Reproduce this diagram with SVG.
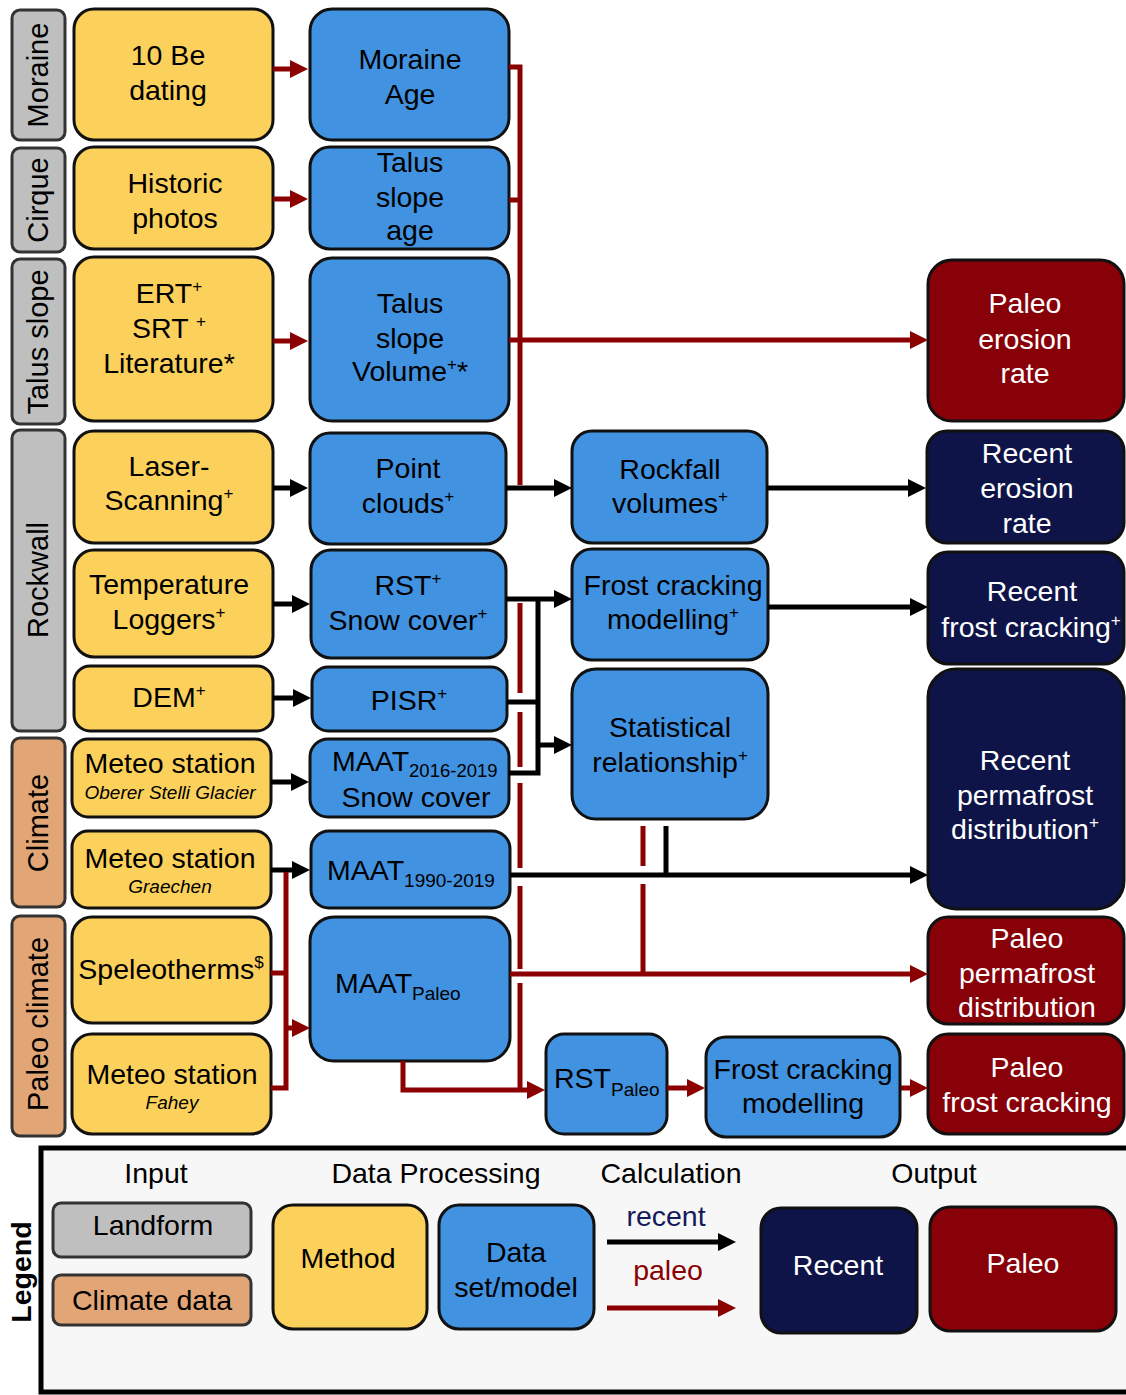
<svg xmlns="http://www.w3.org/2000/svg" width="1126" height="1395" viewBox="0 0 1126 1395">
<defs>
<marker id="ak" markerUnits="userSpaceOnUse" markerWidth="18" markerHeight="18" refX="1" refY="9" orient="auto"><path d="M0,0L18,9L0,18z" fill="#000"/></marker>
<marker id="ar" markerUnits="userSpaceOnUse" markerWidth="18" markerHeight="18" refX="1" refY="9" orient="auto"><path d="M0,0L18,9L0,18z" fill="#8b0000"/></marker>
</defs>
<style>
text{font-family:"Liberation Sans",Arial,sans-serif;font-size:28.5px;text-anchor:middle;fill:#000}
g rect{stroke:#111;stroke-width:3}
.lf rect{fill:#bfbfbf;stroke:#333}
.cl rect{fill:#e2a676;stroke:#333}
.m rect{fill:#fcd15b}
.d rect{fill:#4192e1}
.r rect{fill:#0e1447}
.p rect{fill:#880008}
.r text,.p text{fill:#fff}
.it{font-style:italic;font-size:19px}
.sub{font-size:19px}
.sup{font-size:17px}
.k{stroke:#000;stroke-width:5;fill:none}
.rd{stroke:#8b0000;stroke-width:5;fill:none}
.lbl{font-size:29px}
#legend-frame{fill:#f7f7f7;stroke:#000;stroke-width:5}
</style>

<!-- Landform / climate labels -->
<g id="lf-moraine" class="lf"><rect x="12" y="10" width="53" height="130" rx="8"/><text class="lbl" transform="translate(48,75) rotate(-90)">Moraine</text></g>
<g id="lf-cirque" class="lf"><rect x="12" y="148" width="53" height="104" rx="8"/><text class="lbl" transform="translate(48,200) rotate(-90)">Cirque</text></g>
<g id="lf-talus" class="lf"><rect x="12" y="259" width="53" height="165" rx="8"/><text class="lbl" transform="translate(48,342) rotate(-90)">Talus slope</text></g>
<g id="lf-rockwall" class="lf"><rect x="12" y="430" width="53" height="301" rx="8"/><text class="lbl" transform="translate(48,580) rotate(-90)">Rockwall</text></g>
<g id="cl-climate" class="cl"><rect x="12" y="738" width="53" height="169" rx="8"/><text class="lbl" transform="translate(48,823) rotate(-90)">Climate</text></g>
<g id="cl-paleo" class="cl"><rect x="12" y="916" width="53" height="220" rx="8"/><text class="lbl" transform="translate(48,1024) rotate(-90)">Paleo climate</text></g>

<!-- Methods (yellow) -->
<g id="m-be" class="m"><rect x="74" y="9" width="199" height="131" rx="20"/><text x="168" y="65">10 Be</text><text x="168" y="100">dating</text></g>
<g id="m-photos" class="m"><rect x="74" y="147" width="199" height="102" rx="20"/><text x="175" y="193">Historic</text><text x="175" y="228">photos</text></g>
<g id="m-ert" class="m"><rect x="74" y="257" width="199" height="164" rx="20"/><text x="169" y="303">ERT<tspan class="sup" dy="-11">+</tspan></text><text x="169" y="338">SRT <tspan class="sup" dy="-11">+</tspan></text><text x="169" y="373">Literature*</text></g>
<g id="m-laser" class="m"><rect x="74" y="431" width="199" height="112" rx="20"/><text x="169" y="476">Laser-</text><text x="169" y="510">Scanning<tspan class="sup" dy="-11">+</tspan></text></g>
<g id="m-temp" class="m"><rect x="74" y="550" width="199" height="107" rx="20"/><text x="169" y="594">Temperature</text><text x="169" y="629">Loggers<tspan class="sup" dy="-11">+</tspan></text></g>
<g id="m-dem" class="m"><rect x="74" y="666" width="199" height="65" rx="16"/><text x="169" y="707">DEM<tspan class="sup" dy="-11">+</tspan></text></g>
<g id="m-stelli" class="m"><rect x="72" y="739" width="199" height="78" rx="16"/><text x="170" y="773">Meteo station</text><text class="it" x="170" y="799">Oberer Stelli Glacier</text></g>
<g id="m-graechen" class="m"><rect x="72" y="831" width="199" height="77" rx="16"/><text x="170" y="868">Meteo station</text><text class="it" x="170" y="893">Graechen</text></g>
<g id="m-speleo" class="m"><rect x="72" y="917" width="199" height="106" rx="20"/><text x="171" y="979">Speleotherms<tspan class="sup" dy="-11">$</tspan></text></g>
<g id="m-fahey" class="m"><rect x="72" y="1034" width="199" height="100" rx="20"/><text x="172" y="1084">Meteo station</text><text class="it" x="172" y="1109">Fahey</text></g>

<!-- Data sets (blue) column 1 -->
<g id="d-moraine-age" class="d"><rect x="310" y="9" width="199" height="131" rx="22"/><text x="410" y="69">Moraine</text><text x="410" y="104">Age</text></g>
<g id="d-talus-age" class="d"><rect x="310" y="147" width="199" height="102" rx="20"/><text x="410" y="172">Talus</text><text x="410" y="207">slope</text><text x="410" y="240">age</text></g>
<g id="d-talus-vol" class="d"><rect x="310" y="258" width="199" height="163" rx="22"/><text x="410" y="313">Talus</text><text x="410" y="348">slope</text><text x="410" y="381">Volume<tspan class="sup" dy="-11">+</tspan><tspan dy="11">*</tspan></text></g>
<g id="d-point" class="d"><rect x="310" y="433" width="196" height="111" rx="20"/><text x="408" y="478">Point</text><text x="408" y="513">clouds<tspan class="sup" dy="-11">+</tspan></text></g>
<g id="d-rst" class="d"><rect x="311" y="550" width="195" height="108" rx="20"/><text x="408" y="595">RST<tspan class="sup" dy="-11">+</tspan></text><text x="408" y="630">Snow cover<tspan class="sup" dy="-11">+</tspan></text></g>
<g id="d-pisr" class="d"><rect x="312" y="667" width="195" height="64" rx="16"/><text x="409" y="710">PISR<tspan class="sup" dy="-11">+</tspan></text></g>
<g id="d-maat2016" class="d"><rect x="310" y="739" width="199" height="78" rx="18"/><text x="332" y="771" style="text-anchor:start">MAAT<tspan class="sub" dy="6" style="font-size:18.5px">2016-2019</tspan></text><text x="416" y="807">Snow cover</text></g>
<g id="d-maat1990" class="d"><rect x="311" y="831" width="199" height="77" rx="18"/><text x="327" y="880" style="text-anchor:start">MAAT<tspan class="sub" dy="7">1990-2019</tspan></text></g>
<g id="d-maatpaleo" class="d"><rect x="310" y="917" width="200" height="144" rx="24"/><text x="335" y="993" style="text-anchor:start">MAAT<tspan class="sub" dy="7">Paleo</tspan></text></g>

<!-- Data sets column 2 -->
<g id="d-rockfall" class="d"><rect x="572" y="431" width="195" height="112" rx="20"/><text x="670" y="479">Rockfall</text><text x="670" y="513">volumes<tspan class="sup" dy="-11">+</tspan></text></g>
<g id="d-frost" class="d"><rect x="572" y="549" width="196" height="111" rx="20"/><text x="673" y="595">Frost cracking</text><text x="673" y="629">modelling<tspan class="sup" dy="-11">+</tspan></text></g>
<g id="d-stat" class="d"><rect x="572" y="669" width="196" height="150" rx="24"/><text x="670" y="737">Statistical</text><text x="670" y="772">relationship<tspan class="sup" dy="-11">+</tspan></text></g>
<g id="d-rstpaleo" class="d"><rect x="546" y="1034" width="121" height="100" rx="18"/><text x="554" y="1088" style="text-anchor:start">RST<tspan class="sub" dy="8">Paleo</tspan></text></g>
<g id="d-frostpaleo" class="d"><rect x="706" y="1037" width="194" height="100" rx="20"/><text x="803" y="1079">Frost cracking</text><text x="803" y="1113">modelling</text></g>

<!-- Outputs -->
<g id="o-paleo-erosion" class="p"><rect x="928" y="260" width="196" height="161" rx="24"/><text x="1025" y="313">Paleo</text><text x="1025" y="349">erosion</text><text x="1025" y="383">rate</text></g>
<g id="o-recent-erosion" class="r"><rect x="927" y="431" width="197" height="112" rx="20"/><text x="1027" y="463">Recent</text><text x="1027" y="498">erosion</text><text x="1027" y="533">rate</text></g>
<g id="o-recent-frost" class="r"><rect x="928" y="552" width="196" height="112" rx="20"/><text x="1032" y="601">Recent</text><text x="1031" y="637">frost cracking<tspan class="sup" dy="-11">+</tspan></text></g>
<g id="o-recent-perma" class="r"><rect x="928" y="669" width="196" height="240" rx="28"/><text x="1025" y="770">Recent</text><text x="1025" y="805">permafrost</text><text x="1025" y="839">distribution<tspan class="sup" dy="-11">+</tspan></text></g>
<g id="o-paleo-perma" class="p"><rect x="928" y="917" width="196" height="107" rx="20"/><text x="1027" y="948">Paleo</text><text x="1027" y="983">permafrost</text><text x="1027" y="1017">distribution</text></g>
<g id="o-paleo-frost" class="p"><rect x="928" y="1034" width="196" height="100" rx="20"/><text x="1027" y="1077">Paleo</text><text x="1027" y="1112">frost cracking</text></g>

<!-- Connectors -->
<g id="connectors">
<g id="recent-links">
<path class="k" d="M273,488H291" marker-end="url(#ak)"/>
<path class="k" d="M273,604H293" marker-end="url(#ak)"/>
<path class="k" d="M273,698H294" marker-end="url(#ak)"/>
<path class="k" d="M271,782H292" marker-end="url(#ak)"/>
<path class="k" d="M271,870H293" marker-end="url(#ak)"/>
<path class="k" d="M506,488H555" marker-end="url(#ak)"/>
<path class="k" d="M767,488H909" marker-end="url(#ak)"/>
<path class="k" d="M506,599H555" marker-end="url(#ak)"/>
<path class="k" d="M509,773H538V599"/>
<path class="k" d="M507,702H538"/>
<path class="k" d="M538,745H555" marker-end="url(#ak)"/>
<path class="k" d="M768,607H911" marker-end="url(#ak)"/>
<path class="k" d="M666,826V875"/>
<path class="k" d="M510,875H911" marker-end="url(#ak)"/>
</g>
<g id="paleo-links">
<path class="rd" d="M273,69H291" marker-end="url(#ar)"/>
<path class="rd" d="M273,199H291" marker-end="url(#ar)"/>
<path class="rd" d="M273,341H291" marker-end="url(#ar)"/>
<path class="rd" d="M509,67H520V485"/>
<path class="rd" d="M509,200H520"/>
<path class="rd" d="M509,340H911" marker-end="url(#ar)"/>
<path class="rd" d="M520,603V693M520,712V767M520,783V868M520,886V969M520,983V1090"/>
<path class="rd" d="M403,1061V1090H528" marker-end="url(#ar)"/>
<path class="rd" d="M510,974H911" marker-end="url(#ar)"/>
<path class="rd" d="M643,826V866M643,884V974"/>
<path class="rd" d="M271,1088H286V872"/>
<path class="rd" d="M271,973H286"/>
<path class="rd" d="M286,1028H293" marker-end="url(#ar)"/>
<path class="rd" d="M667,1088H688" marker-end="url(#ar)"/>
<path class="rd" d="M901,1088H911" marker-end="url(#ar)"/>
</g>
</g>

<!-- Legend -->
<g id="legend">
<rect id="legend-frame" x="41" y="1148" width="1100" height="244"/>
<text transform="translate(31,1272) rotate(-90)" style="font-weight:bold">Legend</text>
<text x="156" y="1183">Input</text>
<text x="436" y="1183">Data Processing</text>
<text x="671" y="1183">Calculation</text>
<text x="934" y="1183">Output</text>
<g id="lg-landform" class="lf"><rect x="53" y="1203" width="198" height="54" rx="8"/><text x="153" y="1235">Landform</text></g>
<g id="lg-climate" class="cl"><rect x="53" y="1275" width="198" height="50" rx="8"/><text x="152" y="1310">Climate data</text></g>
<g id="lg-method" class="m"><rect x="273" y="1205" width="154" height="124" rx="20"/><text x="348" y="1268">Method</text></g>
<g id="lg-data" class="d"><rect x="439" y="1205" width="155" height="124" rx="20"/><text x="516" y="1262">Data</text><text x="516" y="1297">set/model</text></g>
<text x="666" y="1226" style="fill:#151a5a">recent</text>
<path class="k" d="M607,1242H719" marker-end="url(#ak)"/>
<text x="668" y="1280" style="fill:#8b0000">paleo</text>
<path class="rd" d="M607,1308H719" marker-end="url(#ar)"/>
<g id="lg-recent" class="r"><rect x="761" y="1208" width="156" height="125" rx="20"/><text x="838" y="1275">Recent</text></g>
<g id="lg-paleo" class="p"><rect x="930" y="1207" width="186" height="124" rx="20"/><text x="1023" y="1273">Paleo</text></g>
</g>
</svg>
